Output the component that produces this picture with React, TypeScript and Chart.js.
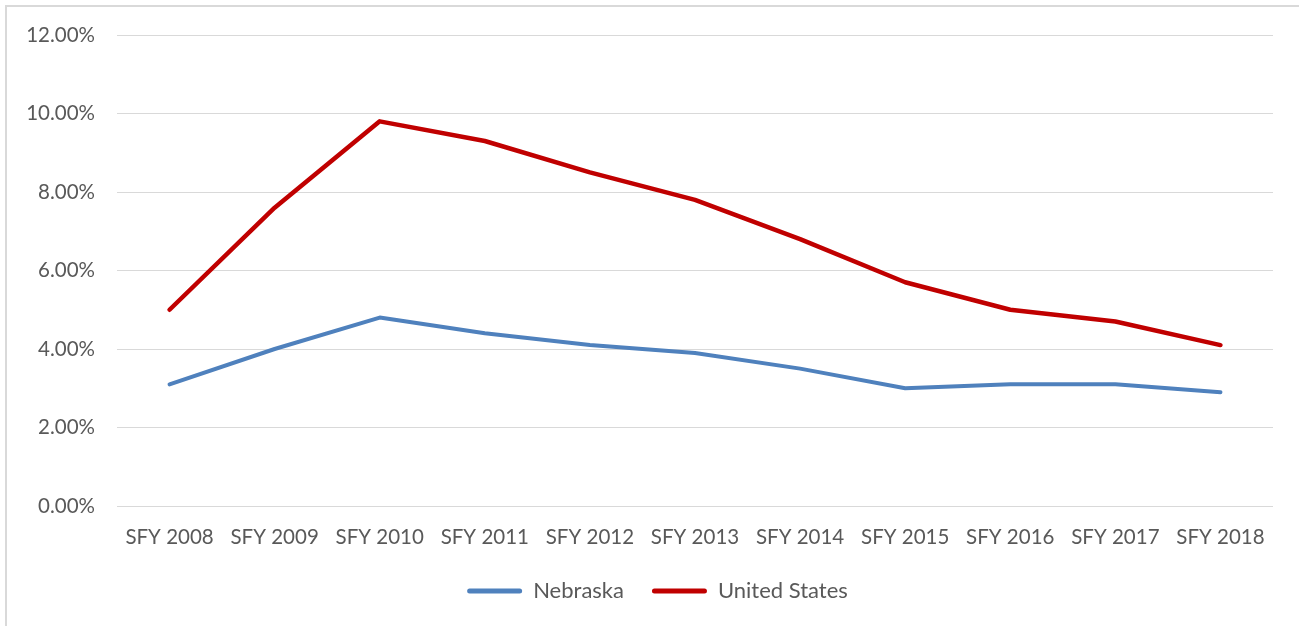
import React, { useEffect, useRef } from "react";
import { Chart, registerables } from "chart.js";

Chart.register(...registerables);

const categories = [
  "SFY 2008", "SFY 2009", "SFY 2010", "SFY 2011", "SFY 2012", "SFY 2013",
  "SFY 2014", "SFY 2015", "SFY 2016", "SFY 2017", "SFY 2018",
];
const nebraska = [3.1, 4.0, 4.8, 4.4, 4.1, 3.9, 3.5, 3.0, 3.1, 3.1, 2.9];
const unitedStates = [5.0, 7.6, 9.8, 9.3, 8.5, 7.8, 6.8, 5.7, 5.0, 4.7, 4.1];
const yTicks = [0, 2, 4, 6, 8, 10, 12];

const FONT = "Lato, 'Open Sans', sans-serif";
const TEXT = "#595959";
const GRID = "#d9d9d9";

const shiftLegend = {
  id: "shiftLegend",
  afterLayout(chart: any) {
    if (chart.legend) {
      chart.legend.left += 21;
      chart.legend.right += 21;
    }
  },
};

export default function App() {
  const ref = useRef<HTMLCanvasElement | null>(null);
  useEffect(() => {
    if (!ref.current) return;
    const chart = new Chart(ref.current, {
      type: "line",
      plugins: [shiftLegend],
      data: {
        labels: categories,
        datasets: [
          {
            label: "Nebraska",
            data: nebraska,
            borderColor: "#4F81BD",
            backgroundColor: "#4F81BD",
            borderWidth: 4,
            pointRadius: 0,
            tension: 0,
            borderCapStyle: "round",
            borderJoinStyle: "round",
          },
          {
            label: "United States",
            data: unitedStates,
            borderColor: "#C00000",
            backgroundColor: "#C00000",
            borderWidth: 4.5,
            pointRadius: 0,
            tension: 0,
            borderCapStyle: "round",
            borderJoinStyle: "round",
          },
        ],
      },
      options: {
        animation: false,
        responsive: false,
        maintainAspectRatio: false,
        layout: { padding: { top: 35, right: 26, bottom: 14, left: 0 } },
        plugins: {
          tooltip: { enabled: false },
          legend: {
            position: "bottom",
            labels: {
              font: { family: FONT, size: 22 },
              color: TEXT,
              boxWidth: 55,
              boxHeight: 5,
              padding: 28,
              generateLabels: (c: any) =>
                c.data.datasets.map((d: any, i: number) => ({
                  text: d.label,
                  fillStyle: d.borderColor,
                  strokeStyle: d.borderColor,
                  lineWidth: 0,
                  borderRadius: 2.5,
                  fontColor: TEXT,
                  datasetIndex: i,
                  hidden: false,
                })),
            },
          },
        },
        scales: {
          x: {
            offset: true,
            grid: { display: false, drawTicks: false },
            border: { display: false },
            ticks: {
              font: { family: FONT, size: 20.5 },
              color: TEXT,
              padding: 19,
              maxRotation: 0,
              autoSkip: false,
            },
            afterFit: (s: any) => {
              s.height = 46;
            },
          },
          y: {
            min: 0,
            max: 12,
            afterBuildTicks: (s: any) => {
              s.ticks = yTicks.map((v) => ({ value: v }));
            },
            grid: { color: GRID, lineWidth: 1, drawTicks: false },
            border: { display: false },
            ticks: {
              font: { family: FONT, size: 20.5 },
              color: TEXT,
              padding: 22,
              callback: (v: any) => Number(v).toFixed(2) + "%",
            },
            afterFit: (s: any) => {
              s.width = 117;
            },
          },
        },
      },
    });
    return () => chart.destroy();
  }, []);

  return (
    <div
      style={{
        position: "fixed",
        left: 0,
        top: 0,
        width: 1299,
        height: 626,
        background: "#fff",
        overflow: "hidden",
      }}
    >
      <div
        style={{
          position: "absolute",
          left: 5,
          top: 5,
          width: 1400,
          height: 800,
          border: "2px solid #d9d9d9",
        }}
      />
      <canvas
        ref={ref}
        width={1299}
        height={626}
        style={{ position: "absolute", left: 0, top: 0 }}
      />
    </div>
  );
}
